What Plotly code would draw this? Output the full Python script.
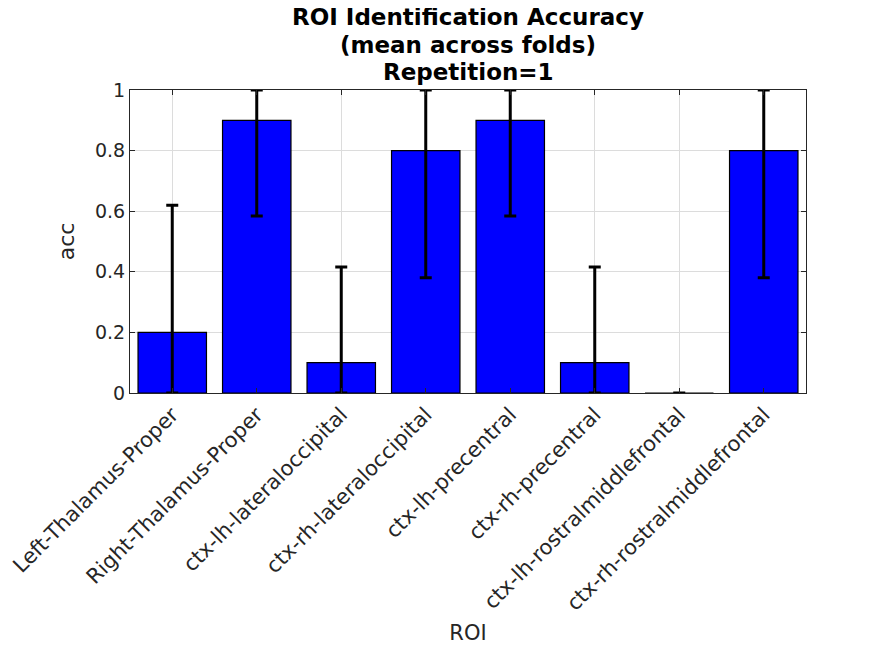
import plotly.graph_objects as go

categories = ["Left-Thalamus-Proper", "Right-Thalamus-Proper", "ctx-lh-lateraloccipital",
              "ctx-rh-lateraloccipital", "ctx-lh-precentral", "ctx-rh-precentral",
              "ctx-lh-rostralmiddlefrontal", "ctx-rh-rostralmiddlefrontal"]
acc = [0.2, 0.9, 0.1, 0.8, 0.9, 0.1, 0.0, 0.8]
err_plus = [0.42, 0.10, 0.316, 0.20, 0.10, 0.316, 0.0, 0.20]
err_minus = [0.20, 0.316, 0.10, 0.42, 0.316, 0.10, 0.0, 0.42]
y_ticks = [0, 0.2, 0.4, 0.6, 0.8, 1]
y_ticklabels = ["0", "0.2", "0.4", "0.6", "0.8", "1"]
title_lines = ["ROI Identification Accuracy", "(mean across folds)", "Repetition=1"]

xpos = list(range(len(categories)))

fig = go.Figure()
fig.add_trace(go.Bar(
    x=xpos, y=acc, width=0.81,
    marker=dict(color="#0000FF", line=dict(color="black", width=1.2)),
    error_y=dict(type="data", symmetric=False, array=err_plus, arrayminus=err_minus,
                 color="black", thickness=3, width=6),
))

font_family = "DejaVu Sans"
for line, shift in zip(title_lines, [73, 45, 18]):
    fig.add_annotation(
        text="<b>" + line + "</b>", xref="paper", yref="paper", x=0.5, y=1,
        xanchor="center", yanchor="middle", yshift=shift, showarrow=False,
        font=dict(family=font_family, size=23, color="black"),
    )

fig.update_layout(
    width=891, height=645,
    paper_bgcolor="white", plot_bgcolor="white",
    margin=dict(l=122, r=93, t=82, b=260),
    showlegend=False,
    font=dict(family=font_family, size=19, color="#262626"),
    xaxis=dict(
        range=[-0.5, 7.5], tickmode="array", tickvals=xpos, ticktext=categories,
        tickangle=-45, ticks="inside", ticklen=5, tickcolor="#262626",
        showline=True, linecolor="#262626", linewidth=1, mirror="ticks",
        showgrid=True, gridcolor="#DCDCDC", gridwidth=1, zeroline=False,
        automargin=False,
        title=dict(text="ROI", font=dict(size=21, color="#262626"), standoff=10),
        tickfont=dict(size=21, color="#262626"),
    ),
    yaxis=dict(
        range=[0, 1], tickmode="array", tickvals=y_ticks, ticktext=y_ticklabels,
        ticks="inside", ticklen=5, tickcolor="#262626",
        showline=True, linecolor="#262626", linewidth=1, mirror="ticks",
        showgrid=True, gridcolor="#DCDCDC", gridwidth=1, zeroline=False,
        automargin=False,
        title=dict(text="acc", font=dict(size=22, color="#262626"), standoff=14),
        tickfont=dict(size=19, color="#262626"),
    ),
)

fig.write_html("out.html")
